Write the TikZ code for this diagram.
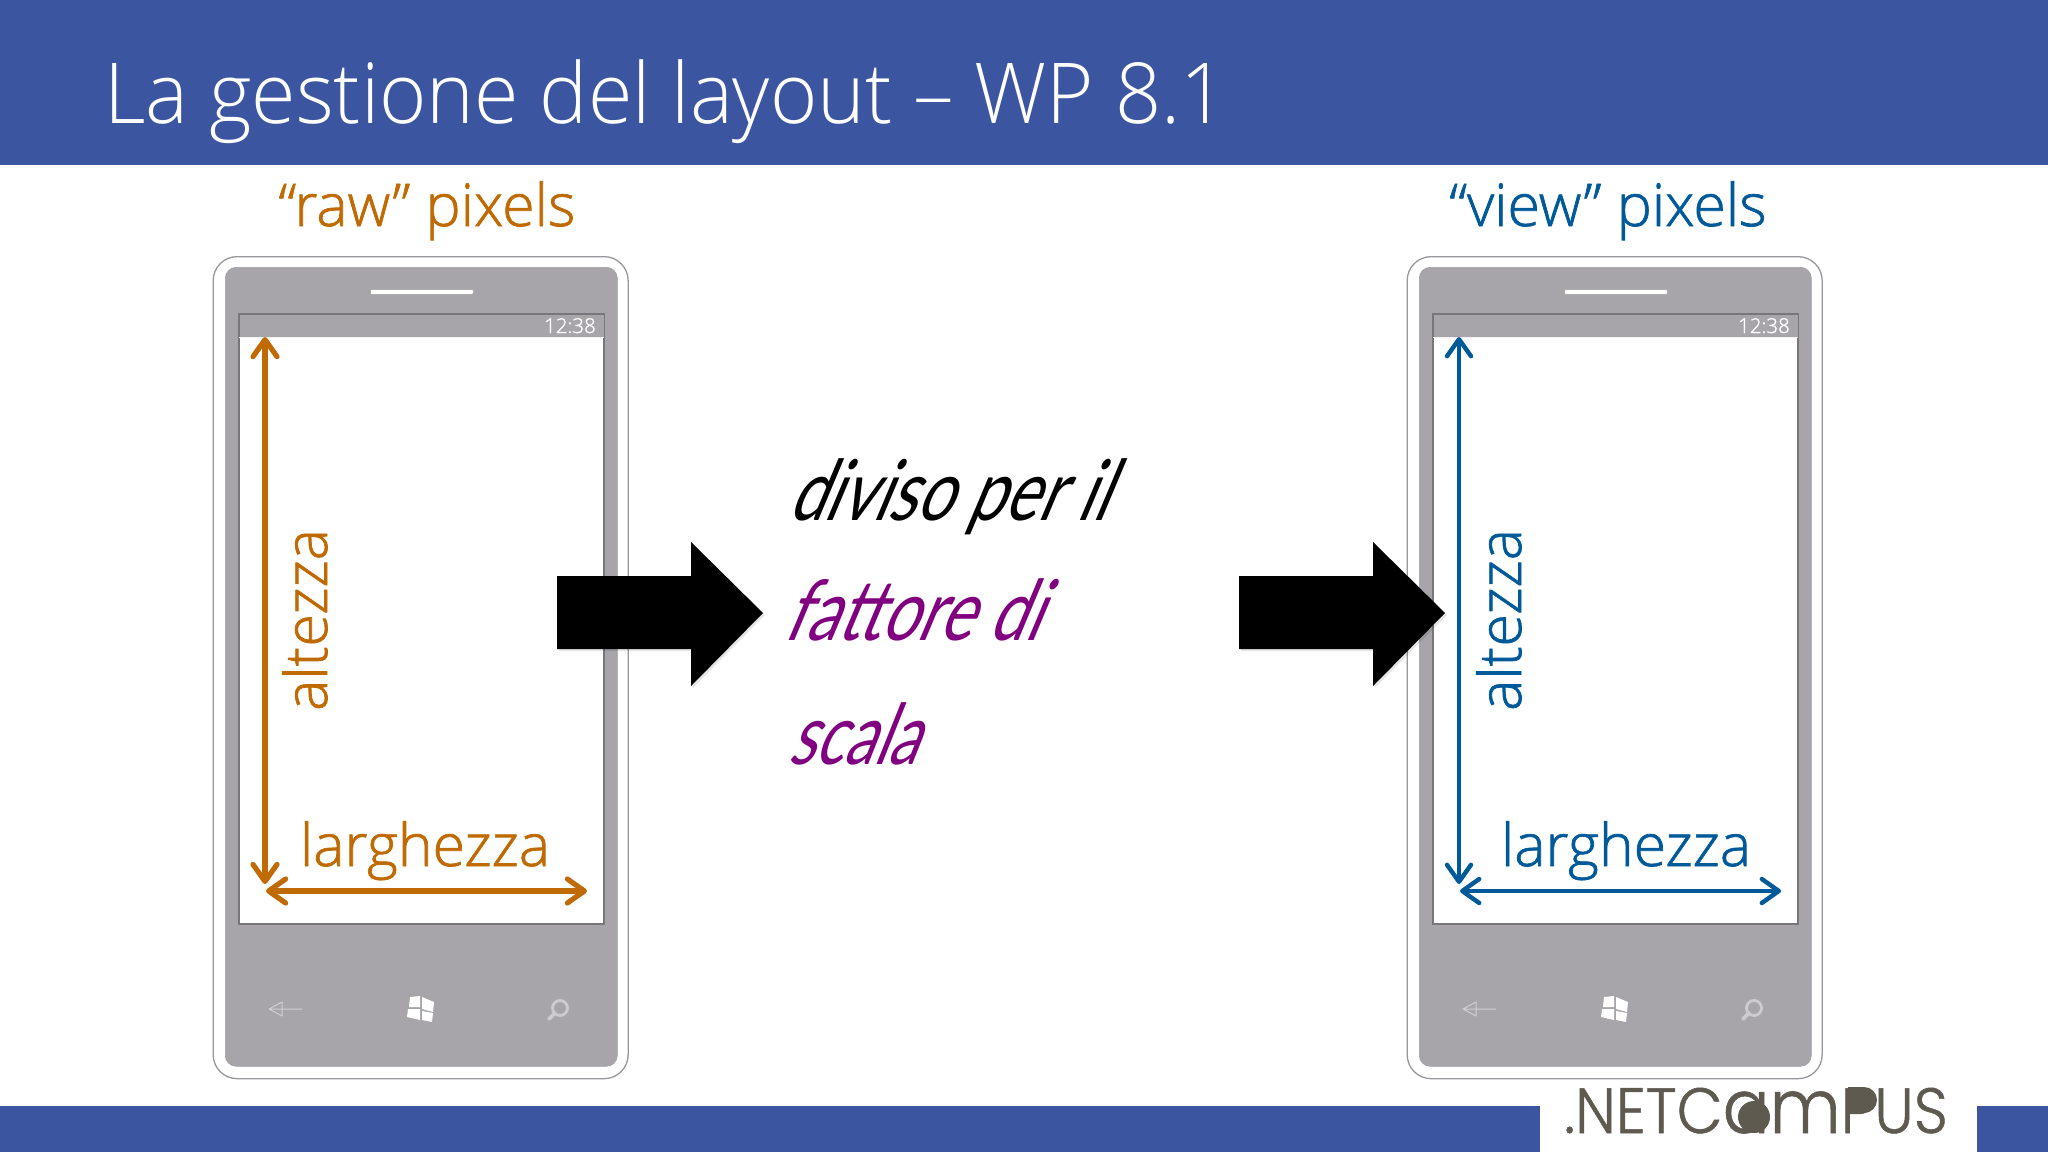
\documentclass[tikz,border=0pt]{standalone}
\usepackage{fontspec}
\usetikzlibrary{arrows.meta}
\setmainfont{Open Sans}[UprightFont=* Light,ItalicFont=* Light Italic,BoldFont=* Light]
\newfontfamily\labfont{Open Sans}[UprightFont=* Light,FakeBold=1.2]
\newfontfamily\handfont{Lato}[FakeSlant=0.42,FakeStretch=0.76]
\newfontfamily\logofont{Poppins}[UprightFont=* Light,FakeBold=0.8]
\definecolor{barblue}{HTML}{3C55A0}
\definecolor{rawcol}{HTML}{BF6A02}
\definecolor{viewcol}{HTML}{005A9A}
\definecolor{phonegray}{HTML}{A7A5A9}
\definecolor{edgegray}{HTML}{98989C}
\definecolor{screenedge}{HTML}{77767A}
\definecolor{iconlight}{HTML}{CFCFD1}
\definecolor{purplehand}{HTML}{800080}
\definecolor{logocol}{HTML}{5E5A50}
\tikzset{
  bar/.style={fill=barblue,draw=none},
  shell/.style={draw=edgegray,line width=1.3pt,fill=white,rounded corners=24pt},
  body/.style={fill=phonegray,draw=screenedge!70,line width=.6pt,rounded corners=11pt},
  screen/.style={fill=white,draw=screenedge,line width=1.4pt},
  dim/.style={line width=5.2pt,{Straight Barb[length=17pt,width=24pt,round]}-{Straight Barb[length=17pt,width=24pt,round]}},
  lab/.style={inner sep=0pt,anchor=base,font=\labfont\fontsize{59}{62}\selectfont},
  bigarrow/.style={fill=black,draw=none},
  hand/.style={inner sep=0pt,anchor=base west,font=\handfont\fontsize{84}{90}\selectfont},
}
\newcommand{\phonepic}[2]{% prefix, colour
  \begin{scope}[xshift=#2]
  \node[shell,minimum width=415pt,minimum height=822pt,anchor=north west] (#1shell) at (212.5,256) {};
  \node[body,minimum width=392pt,minimum height=799pt,anchor=north west] (#1body) at (225,267) {};
  \node[fill=white,draw=screenedge!60,line width=.8pt,rounded corners=1pt,minimum width=103pt,minimum height=5pt,inner sep=0pt,anchor=north west] (#1spk) at (370,289) {};
  \node[screen,minimum width=364pt,minimum height=609pt,anchor=north west] (#1scr) at (239,314) {};
  \fill[phonegray] (#1scr.north west) rectangle (#1scr.east |- 0,337);
  \draw[screenedge,line width=1.4pt] (#1scr.north west) rectangle (#1scr.south east);
  \draw[white!85!phonegray,line width=1pt] (#1scr.west |- 0,337) -- (#1scr.east |- 0,337);
  \node[text=white,inner sep=0pt,anchor=base east,font=\labfont\fontsize{20.5}{24}\selectfont] (#1time) at (596,333) {12:38};
  \draw[iconlight,line width=1pt,line join=round] (302,1009) -- (269,1009) -- (282,1002) -- (282,1016) -- (269,1009);
  \begin{scope}[shift={(421,1009)}]
    \fill[white] (-11,-12) -- (-1,-13) -- (-1,-2) -- (-12,-2) -- cycle;
    \fill[white] (1,-12) -- (13,-7) -- (12,3) -- (1,0) -- cycle;
    \fill[white] (-13,0) -- (-1,0) -- (-1,11) -- (-14,8) -- cycle;
    \fill[white] (1,2) -- (12,4) -- (11,13) -- (1,11) -- cycle;
  \end{scope}
  \draw[iconlight!92!phonegray,line width=2.8pt] (560,1008) circle (7.5);
  \draw[iconlight!92!phonegray,line width=3.6pt,line cap=round] (555,1013) -- (549,1019);
  \end{scope}
}
\begin{document}
\begin{tikzpicture}[x=1pt,y=-1pt]
\useasboundingbox (0,0) rectangle (2048,1152);
\fill[white] (0,0) rectangle (2048,1152);
\fill[bar] (0,0) rectangle (2048,165);
\fill[bar] (0,1106) rectangle (1540,1152);
\fill[bar] (1977,1106) rectangle (2048,1152);
\node[inner sep=0pt,anchor=base west,text=white,font=\fontsize{84}{90}\selectfont] (title) at (104,123) {\scalebox{.963}[1]{La gestione del layout -- WP 8.1}};

\node[lab,text=rawcol] (rawhead) at (427,226) {“raw” pixels};
\node[lab,text=viewcol] (viewhead) at (1608,226) {“view” pixels};

\phonepic{a}{0pt}
\phonepic{b}{1194pt}

% raw dimensions
\coordinate (atop) at (265,337);
\coordinate (abot) at (265,884);
\coordinate (aleft) at (266,891);
\coordinate (aright) at (587,891);
\draw[dim,rawcol] (atop) -- (abot);
\draw[dim,rawcol] (aleft) -- (aright);
\node[lab,text=rawcol] (aw) at (425,866) {larghezza};
\node[lab,text=rawcol,rotate=90] (ah) at (327,620) {altezza};

% view dimensions
\coordinate (btop) at (1459,337);
\coordinate (bbot) at (1459,884);
\coordinate (bleft) at (1460,891);
\coordinate (bright) at (1781,891);
\draw[dim,viewcol,line width=4.4pt] (btop) -- (bbot);
\draw[dim,viewcol,line width=4.4pt] (bleft) -- (bright);
\node[lab,text=viewcol] (bw) at (1626,866) {larghezza};
\node[lab,text=viewcol,rotate=90] (bh) at (1521,620) {altezza};

% block arrows
\foreach \dx/\nm in {0/left,682/right}{
  \begin{scope}[xshift=\dx pt]
    \fill[black,opacity=.10] (559,579) -- (693,579) -- (693,544) -- (765,615) -- (693,688) -- (693,651) -- (559,651) -- cycle;
    \fill[bigarrow] (557,576) -- (691,576) -- (691,542) -- (763,613) -- (691,686) -- (691,649) -- (557,649) -- cycle;
  \end{scope}
}

\node[hand,text=black] (h1) at (787,520) {diviso per il};
\node[hand,text=purplehand] (h2) at (782,640) {fattore di};
\node[hand,text=purplehand] (h3) at (787,764) {\scalebox{.95}[1]{scala}};

% logo
\node[inner sep=0pt,anchor=base west,text=logocol,font=\logofont\fontsize{64}{66}\selectfont] (logo) at (1564,1133) {\scalebox{.93}[1]{.NETC\scalebox{1.17}{am}PUS}};
\fill[logocol] (1754,1117) circle (16);
\fill[logocol] (1848,1087) -- (1864,1087) arc[start angle=-90,end angle=90,radius=13] -- (1848,1113) -- cycle;
\end{tikzpicture}
\end{document}
